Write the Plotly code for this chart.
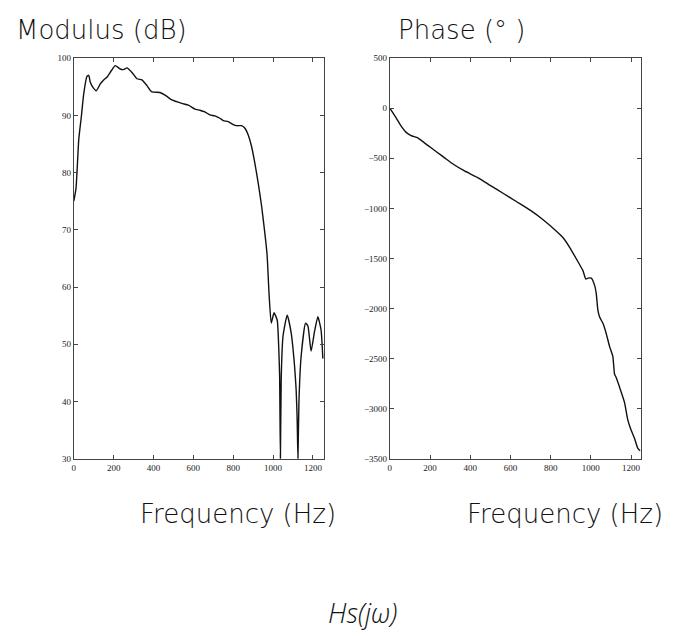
import plotly.graph_objects as go

# Modulus (dB) vs frequency (Hz)
mod_freq = [0, 11, 25, 38, 50, 66, 75, 83, 98, 113, 133, 150, 167, 188, 208, 233, 250, 267, 292, 317, 342,
            367, 392, 433, 460, 492, 542, 575, 608, 633, 658, 683, 708, 733, 750, 775, 800, 817, 842, 858, 875,
            892, 908, 925, 942, 958, 970, 980, 991, 1005, 1021, 1029, 1033, 1037, 1041, 1050, 1071, 1091, 1108,
            1116, 1121, 1125, 1130, 1141, 1163, 1175, 1191, 1208, 1225, 1241, 1250]
mod_db = [75, 77.2, 85.8, 89.8, 93.8, 96.8, 97.0, 95.8, 94.8, 94.3, 95.5, 96.2, 96.7, 97.8, 98.7, 98.1, 98.0,
          98.3, 97.5, 96.4, 96.2, 95.2, 94.1, 94.0, 93.5, 92.7, 92.1, 91.8, 91.1, 90.9, 90.6, 90.1, 89.9, 89.5,
          89.1, 88.9, 88.4, 88.2, 88.2, 87.8, 86.6, 84.6, 81.8, 78.3, 74.3, 69.7, 65.7, 58.8, 53.7, 55.5, 54.2,
          49, 44.5, 30, 44, 51.4, 55.1, 52.0, 46.2, 42, 37, 30, 40, 47.9, 53.7, 53.2, 48.8, 52.2, 54.8, 52.5, 47.5]

# Phase (degrees) vs frequency (Hz)
ph_freq = [0, 32, 57, 81, 106, 139, 172, 205, 238, 271, 303, 369, 435, 501, 567, 633, 698, 764, 830, 863, 896,
           929, 961, 975, 986, 1002, 1019, 1027, 1035, 1043, 1060, 1076, 1093, 1109, 1118, 1126, 1143, 1167,
           1184, 1200, 1217, 1233, 1245]
ph_deg = [0, -100, -182, -241, -274, -296, -346, -395, -444, -493, -542, -624, -690, -772, -854, -936, -1018,
          -1116, -1231, -1296, -1394, -1509, -1624, -1706, -1696, -1696, -1771, -1853, -2017, -2083, -2148,
          -2247, -2378, -2476, -2656, -2689, -2787, -2935, -3115, -3213, -3295, -3394, -3420]

mod_yticks = [30, 40, 50, 60, 70, 80, 90, 100]
ph_yticks = [-3500, -3000, -2500, -2000, -1500, -1000, -500, 0, 500]
xticks = [0, 200, 400, 600, 800, 1000, 1200]

W, H = 680, 636
fig = go.Figure()
fig.add_trace(go.Scatter(x=mod_freq, y=mod_db, mode="lines", xaxis="x", yaxis="y",
                         line=dict(color="#111111", width=1.4, shape="spline", smoothing=0.5), showlegend=False))
fig.add_trace(go.Scatter(x=ph_freq, y=ph_deg, mode="lines", xaxis="x2", yaxis="y2",
                         line=dict(color="#111111", width=1.4, shape="spline", smoothing=0.5), showlegend=False))

tickfont = dict(family="Liberation Serif", size=9, color="#222")
axcommon = dict(showgrid=False, zeroline=False, showline=True, linecolor="#444", linewidth=1,
                mirror="ticks", ticks="inside", ticklen=4, tickcolor="#444", tickfont=tickfont)

ydom = [1 - 461 / H, 1 - 54 / H]
fig.update_layout(
    width=W, height=H, margin=dict(l=0, r=0, t=0, b=0),
    paper_bgcolor="white", plot_bgcolor="white",
    xaxis=dict(domain=[72 / W, 323 / W], range=[0, 1256], tickvals=xticks, anchor="y", **axcommon),
    yaxis=dict(domain=ydom, range=[30, 100], tickvals=mod_yticks, anchor="x", **axcommon),
    xaxis2=dict(domain=[389 / W, 641 / W], range=[0, 1250], tickvals=xticks, anchor="y2", **axcommon),
    yaxis2=dict(domain=ydom, range=[-3500, 500], tickvals=ph_yticks, anchor="x2", **axcommon),
)

def tfont(size, family="DejaVu Sans", style="normal", weight=200):
    return dict(family=family, size=size, color="#111", weight=weight, style=style)

def ann(text, xpx, ypx, font, xanchor="center"):
    fig.add_annotation(text=text, x=xpx / W, y=1 - ypx / H, xref="paper", yref="paper",
                       showarrow=False, font=font, xanchor=xanchor, yanchor="middle")

ann("Modulus (dB)", 12, 25, tfont(26), "left")
ann("Phase (° )", 395, 25, tfont(26), "left")
ann("Frequency (Hz)", 237, 517, tfont(26))
ann("Frequency (Hz)", 565, 517, tfont(26))
ann("Hs(jω)", 362, 617, tfont(27, "Open Sans", "italic", 300))

fig.write_html("out.html", config={"displayModeBar": False},
               post_script="document.body.style.margin='0';")
